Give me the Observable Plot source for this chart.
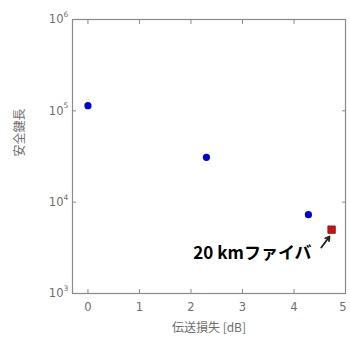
<!DOCTYPE html>
<html><head><meta charset="utf-8">
<script src="https://cdn.jsdelivr.net/npm/d3@7"></script>
<script src="https://cdn.jsdelivr.net/npm/@observablehq/plot@0.6"></script>
<style>
body{margin:0;background:#fff;overflow:hidden;}
</style></head><body><div id="chart"></div>
<script>
const lossDb = [0, 2.3, 4.28];
const keyLength = [1.14e5, 3.1e4, 7.3e3];
const fiberLoss = [4.73];
const fiberKey = [5.0e3];
const annotationText = ["20 kmファイバ"];
const arrowFrom = [{x: 4.53, y: 3190}];
const arrowTo = [{x: 4.69, y: 4210}];
const xTicks = [0, 1, 2, 3, 4, 5];
const xTickLabels = ["0", "1", "2", "3", "4", "5"];
const yExponents = [3, 4, 5, 6];
const xLabel = "伝送損失 [dB]";
const yLabel = "安全鍵長";

const blue = lossDb.map((x, i) => ({x, y: keyLength[i]}));
const red = fiberLoss.map((x, i) => ({x, y: fiberKey[i], t: annotationText[i]}));
const yTicks = yExponents.map(e => ({v: Math.pow(10, e), e: String(e)}));
const xTickRows = xTicks.map((v, i) => ({v, label: xTickLabels[i], base: 1e3, last: i === xTicks.length - 1}));
const arrows = arrowFrom.map((a, i) => ({x1: a.x, y1: a.y, x2: arrowTo[i].x, y2: arrowTo[i].y}));
const grey = "#8a8a8a";
const textGrey = "#6e6e6e";

const chart = Plot.plot({
  width: 350, height: 343,
  marginLeft: 72, marginRight: 5, marginTop: 19, marginBottom: 50,
  style: {fontFamily: "'DejaVu Sans', sans-serif", background: "#fff", overflow: "visible"},
  x: {domain: [-0.3, 5]},
  y: {type: "log", domain: [1e3, 1e6]},
  marks: [
    Plot.frame({stroke: grey, strokeWidth: 1.2}),
    Plot.axisX({anchor: "bottom", ticks: xTicks, tickSize: -4, stroke: grey, tickFormat: () => "", label: null}),
    Plot.axisX({anchor: "top", ticks: xTicks, tickSize: -4, stroke: grey, tickFormat: () => "", label: null}),
    Plot.axisY({anchor: "left", ticks: yTicks.map(d => d.v), tickSize: -4, stroke: grey, tickFormat: () => "", label: null}),
    Plot.axisY({anchor: "right", ticks: yTicks.map(d => d.v), tickSize: -4, stroke: grey, tickFormat: () => "", label: null}),
    Plot.text(xTickRows.filter(d => !d.last), {x: "v", y: "base", text: "label", dy: 14, fill: textGrey, fontSize: 11.5, fontFamily: "DejaVu Sans"}),
    Plot.text(xTickRows.filter(d => d.last), {x: "v", y: "base", text: "label", dy: 14, dx: 1, textAnchor: "end", fill: textGrey, fontSize: 11.5, fontFamily: "DejaVu Sans"}),
    Plot.text(yTicks, {x: -0.3, y: "v", text: () => "10", dx: -9, textAnchor: "end", fill: textGrey, fontSize: 11.5, fontFamily: "DejaVu Sans"}),
    Plot.text(yTicks, {x: -0.3, y: "v", text: "e", dx: -9, dy: -5, textAnchor: "start", fill: textGrey, fontSize: 7.5, fontFamily: "DejaVu Sans"}),
    Plot.text([xLabel], {text: d => d, frameAnchor: "bottom", dy: 38, fill: textGrey, fontSize: 12, fontFamily: "Noto Sans CJK JP"}),
    Plot.text([yLabel], {text: d => d, frameAnchor: "left", dx: -52, rotate: -90, fill: textGrey, fontSize: 12, fontFamily: "Noto Sans CJK JP"}),
    Plot.dot(blue, {x: "x", y: "y", r: 3.6, fill: "#0000dd", stroke: "none"}),
    Plot.dot(red, {x: "x", y: "y", r: 4.2, symbol: "square", fill: "#cc1111", stroke: "#881111", strokeWidth: 0.8}),
    Plot.text(red, {x: "x", y: "y", text: "t", dx: -20, dy: 24, textAnchor: "end", fill: "#000", fontSize: 17, fontWeight: "bold", fontFamily: "Noto Sans CJK JP", letterSpacing: "2.5px"}),
    Plot.arrow(arrows, {x1: "x1", y1: "y1", x2: "x2", y2: "y2", stroke: "#222", strokeWidth: 1.8, headLength: 7})
  ]
});
document.getElementById("chart").appendChild(chart);
</script></body></html>
